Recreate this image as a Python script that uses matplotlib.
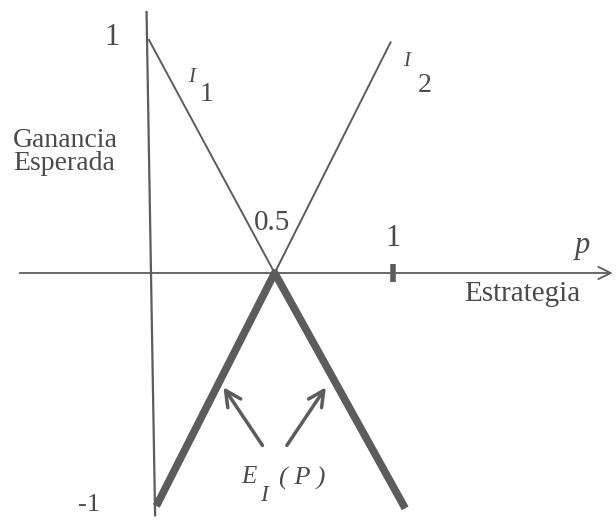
import matplotlib
matplotlib.use("Agg")
import matplotlib.pyplot as plt

# rectas de ganancia esperada
i1_p = [0.0, 0.515]
i1_y = [1.0, 0.0]
i2_p = [0.515, 0.99]
i2_y = [0.0, 0.99]
# envolvente inferior E_I(p)
env_p = [0.03, 0.515, 1.05]
env_y = [-1.0, 0.0, -1.01]

SERIF = "Liberation Serif"
GRIS = "#5c5c5c"
TXT = "#4a4a4a"

fig = plt.figure(figsize=(6.16, 5.23), dpi=100)
ax = fig.add_axes([0, 0, 1, 1])
ax.set_xlim(-149 / 244, (616 - 149) / 244)
ax.set_ylim((273 - 523) / 233, 273 / 233)
ax.axis("off")

# ejes
ax.plot([-0.01, 0.025], [1.12, -1.04], color=GRIS, lw=1.6)
ax.annotate("", xy=(1.9, 0), xytext=(-0.53, 0), annotation_clip=False,
            arrowprops=dict(arrowstyle="->", color=GRIS, lw=1.3,
                            mutation_scale=22, shrinkA=0, shrinkB=0))
ax.plot([1.0], [0.0], marker="|", ms=13, mew=4, color=GRIS)

# rectas I1, I2 y envolvente
ax.plot(i1_p, i1_y, color=GRIS, lw=1.4)
ax.plot(i2_p, i2_y, color=GRIS, lw=1.4)
ax.plot(env_p, env_y, color=GRIS, lw=5.5, solid_capstyle="butt")

# flechas hacia E_I(p)
ax.annotate("", xy=(0.305, -0.49), xytext=(0.465, -0.74),
            arrowprops=dict(arrowstyle="->", color=GRIS, lw=2.5,
                            mutation_scale=28, shrinkA=0, shrinkB=0))
ax.annotate("", xy=(0.725, -0.49), xytext=(0.565, -0.74),
            arrowprops=dict(arrowstyle="->", color=GRIS, lw=2.5,
                            mutation_scale=28, shrinkA=0, shrinkB=0))

# textos
kw = dict(family=SERIF, color=TXT, ha="center", va="center")
ax.text(-0.152, 1.01, "1", fontsize=22, **kw)
ax.text(-0.246, -0.996, "-1", fontsize=19, **kw)
ax.text(-0.557, 0.52, "Ganancia\nEsperada", fontsize=20, family=SERIF,
        color=TXT, ha="left", va="center", linespacing=0.88)
ax.text(0.504, 0.215, "0.5", fontsize=21, **kw)
ax.text(1.0, 0.15, "1", fontsize=22, **kw)
ax.text(1.775, 0.116, "p", fontsize=22, style="italic", **kw)
ax.text(1.529, -0.09, "Estrategia", fontsize=21, **kw)

ax.text(0.176, 0.841, "I", fontsize=15, style="italic", **kw)
ax.text(0.234, 0.768, "1", fontsize=20, **kw)
ax.text(1.057, 0.906, "I", fontsize=15, style="italic", **kw)
ax.text(1.131, 0.803, "2", fontsize=20, **kw)

ax.text(0.41, -0.876, "E", fontsize=18, style="italic", **kw)
ax.text(0.471, -0.957, "I", fontsize=17, style="italic", **kw)
ax.text(0.627, -0.88, "( P )", fontsize=19, style="italic", **kw)

fig.savefig("out.png", dpi=100, facecolor="white")
